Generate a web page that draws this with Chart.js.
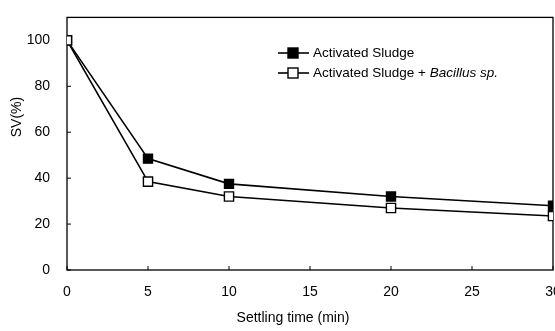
<!DOCTYPE html>
<html><head><meta charset="utf-8">
<script src="https://cdn.jsdelivr.net/npm/chart.js@4"></script>
<style>
html,body{margin:0;padding:0;background:#fff;overflow:hidden;width:555px;height:331px}
#wrap{position:relative;width:570px;height:331px}
</style></head>
<body><div id="wrap"><canvas id="c"></canvas></div>
<script>
const times = [0, 5, 10, 20, 30];
const sludge = [100, 48.5, 37.5, 32, 28];
const bacillus = [100, 38.5, 32, 27, 23.5];
const xTicks = [0, 5, 10, 15, 20, 25, 30];
const yTicks = [0, 20, 40, 60, 80, 100];
const legendLabels = [["Activated Sludge", ""], ["Activated Sludge + ", "Bacillus sp."]];
const xTitle = "Settling time (min)";
const yTitle = "SV(%)";

const FONT = '"Liberation Sans", Arial, Helvetica, sans-serif';
Chart.defaults.font.family = FONT;
Chart.defaults.color = '#000';

const decor = {
  id: 'decor',
  beforeDatasetsDraw(chart) {
    const {ctx, chartArea: a, scales} = chart;
    ctx.save();
    ctx.strokeStyle = '#000';
    ctx.lineWidth = 1.3;
    ctx.strokeRect(a.left, a.top, a.right - a.left, a.bottom - a.top);
    ctx.lineWidth = 1;
    scales.x.ticks.forEach(t => {
      const px = scales.x.getPixelForValue(t.value);
      ctx.beginPath(); ctx.moveTo(px, a.bottom); ctx.lineTo(px, a.bottom - 4); ctx.stroke();
    });
    scales.y.ticks.forEach(t => {
      const py = scales.y.getPixelForValue(t.value);
      ctx.beginPath(); ctx.moveTo(a.left, py); ctx.lineTo(a.left + 4, py); ctx.stroke();
    });
    ctx.restore();
  },
  afterDraw(chart) {
    const {ctx} = chart;
    ctx.save();
    ctx.fillStyle = '#000';
    ctx.font = '14px ' + FONT;
    ctx.textAlign = 'center';
    ctx.textBaseline = 'middle';
    ctx.fillText(xTitle, 293, 318);
    ctx.save();
    ctx.translate(17, 117);
    ctx.rotate(-Math.PI / 2);
    ctx.font = '14px ' + FONT;
    ctx.fillText(yTitle, 0, 0);
    ctx.restore();
    const rows = [53, 73];
    const fills = ['#000', '#fff'];
    legendLabels.forEach((lab, i) => {
      const y = rows[i];
      ctx.strokeStyle = '#000';
      ctx.lineWidth = 1.6;
      ctx.beginPath(); ctx.moveTo(278, y); ctx.lineTo(309, y); ctx.stroke();
      ctx.fillStyle = fills[i];
      ctx.fillRect(288, y - 5, 10, 10);
      ctx.lineWidth = 1.4;
      ctx.strokeRect(288, y - 5, 10, 10);
      ctx.fillStyle = '#000';
      ctx.textAlign = 'left';
      ctx.textBaseline = 'middle';
      ctx.font = '13.5px ' + FONT;
      ctx.fillText(lab[0], 313, y);
      if (lab[1]) {
        const w = ctx.measureText(lab[0]).width;
        ctx.font = 'italic 13.5px ' + FONT;
        ctx.fillText(lab[1], 313 + w, y);
      }
    });
    ctx.restore();
  }
};

new Chart(document.getElementById('c'), {
  type: 'line',
  data: {
    datasets: [
      {
        label: legendLabels[0].join(''),
        data: times.map((t, i) => ({x: t, y: sludge[i]})),
        order: 1,
        borderColor: '#000', borderWidth: 1.6,
        pointStyle: 'rect', pointRadius: 6.5,
        pointBackgroundColor: '#000', pointBorderColor: '#000', pointBorderWidth: 1.2,
        tension: 0
      },
      {
        label: legendLabels[1].join(''),
        data: times.map((t, i) => ({x: t, y: bacillus[i]})),
        order: 0,
        borderColor: '#000', borderWidth: 1.6,
        pointStyle: 'rect', pointRadius: 6.5,
        pointBackgroundColor: '#fff', pointBorderColor: '#000', pointBorderWidth: 1.4,
        tension: 0
      }
    ]
  },
  options: {
    responsive: true,
    maintainAspectRatio: false,
    animation: false,
    layout: {padding: {top: 5, right: 17, left: 0, bottom: 0}},
    plugins: {legend: {display: false}, tooltip: {enabled: false}},
    scales: {
      x: {
        type: 'linear', min: 0, max: 30,
        afterBuildTicks: s => { s.ticks = xTicks.map(v => ({value: v})); },
        afterFit: s => { s.height = 61; },
        grid: {display: false}, border: {display: false},
        ticks: {font: {size: 14}, padding: 6, maxRotation: 0}
      },
      y: {
        type: 'linear', min: 0, max: 110,
        afterBuildTicks: s => { s.ticks = yTicks.map(v => ({value: v})); },
        afterFit: s => { s.width = 67; },
        grid: {display: false}, border: {display: false},
        ticks: {font: {size: 14}, padding: 9}
      }
    }
  },
  plugins: [decor]
});
</script>
</body></html>
